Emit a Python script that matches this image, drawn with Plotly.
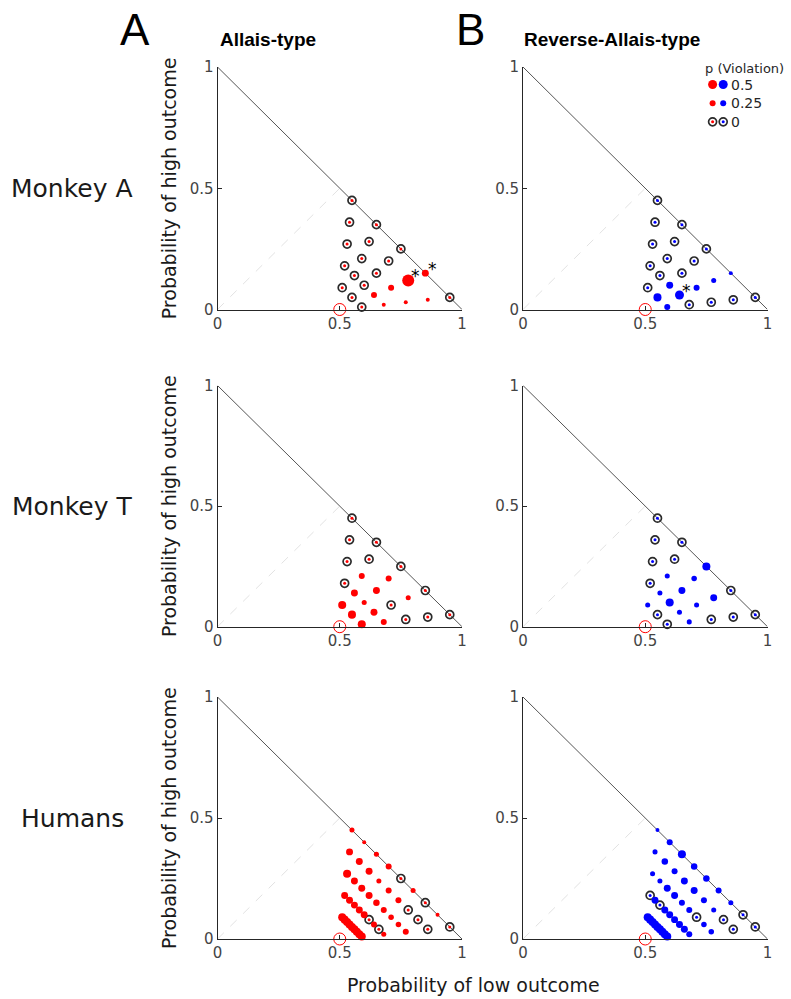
import plotly.graph_objects as go

# ---------------- data ----------------
# Monkey gamble set (x = P(low outcome), y = P(high outcome))
MONKEY_X = [0.55, 0.54, 0.53, 0.52, 0.51,
            0.65, 0.62, 0.59, 0.56,
            0.75, 0.70, 0.65, 0.60, 0.55,
            0.85, 0.78, 0.71, 0.64,
            0.95, 0.86, 0.77, 0.68, 0.59]
MONKEY_Y = [0.45, 0.36, 0.27, 0.18, 0.09,
            0.35, 0.28, 0.21, 0.14,
            0.25, 0.20, 0.15, 0.10, 0.05,
            0.15, 0.12, 0.09, 0.06,
            0.05, 0.04, 0.03, 0.02, 0.01]

P_MONKEY_A_ALLAIS = [0, 0, 0, 0, 0,
                     0, 0, 0, 0,
                     0, 0, 0, 0, 0,
                     0.33, 0.75, 0.25, 0.25,
                     0, 0.08, 0.08, 0.08, 0]
P_MONKEY_A_REVERSE = [0, 0, 0, 0, 0,
                      0, 0, 0, 0,
                      0, 0, 0, 0.33, 0.42,
                      0.08, 0.17, 0.25, 0.5,
                      0, 0, 0, 0, 0.25]
P_MONKEY_T_ALLAIS = [0, 0, 0, 0, 0.42,
                     0, 0, 0.25, 0.33,
                     0, 0.25, 0.33, 0.17, 0.42,
                     0, 0.17, 0, 0.33,
                     0, 0, 0, 0.25, 0.42]
P_MONKEY_T_REVERSE = [0, 0, 0, 0, 0.17,
                      0, 0, 0.17, 0.17,
                      0.42, 0.21, 0.33, 0.42, 0,
                      0, 0.33, 0.17, 0.17,
                      0, 0, 0, 0.17, 0]

# Human gamble set
HUMAN_X = [0.55, 0.60, 0.65, 0.70, 0.75, 0.80, 0.85, 0.90, 0.95,
           0.54, 0.58, 0.62, 0.66, 0.70, 0.74, 0.78, 0.82, 0.86,
           0.53, 0.56, 0.59, 0.62, 0.65, 0.68, 0.71, 0.74, 0.77,
           0.52, 0.54, 0.56, 0.58, 0.60, 0.62, 0.64, 0.66, 0.68,
           0.51, 0.52, 0.53, 0.54, 0.55, 0.56, 0.57, 0.58, 0.59]
HUMAN_Y = [0.45, 0.40, 0.35, 0.30, 0.25, 0.20, 0.15, 0.10, 0.05,
           0.36, 0.32, 0.28, 0.24, 0.20, 0.16, 0.12, 0.08, 0.04,
           0.27, 0.24, 0.21, 0.18, 0.15, 0.12, 0.09, 0.06, 0.03,
           0.18, 0.16, 0.14, 0.12, 0.10, 0.08, 0.06, 0.04, 0.02,
           0.09, 0.08, 0.07, 0.06, 0.05, 0.04, 0.03, 0.02, 0.01]
P_HUMAN_ALLAIS = [0.17, 0.08, 0.17, 0.25, 0, 0.17, 0, 0.08, 0,
                  0.33, 0.33, 0.33, 0.17, 0.25, 0.25, 0, 0, 0,
                  0.42, 0.33, 0.33, 0.33, 0.29, 0.25, 0.21, 0.21, 0.25,
                  0.33, 0.33, 0.33, 0.33, 0.33, 0, 0.25, 0, 0.17,
                  0.42, 0.42, 0.42, 0.42, 0.42, 0.42, 0.42, 0.42, 0.42]
P_HUMAN_REVERSE = [0.08, 0.25, 0.42, 0.29, 0.29, 0.25, 0.17, 0, 0,
                   0.17, 0.29, 0.25, 0.33, 0.33, 0.25, 0.17, 0, 0,
                   0.17, 0.17, 0.33, 0.33, 0.25, 0.25, 0, 0.21, 0.21,
                   0, 0.33, 0, 0.33, 0.33, 0.33, 0.33, 0.33, 0.25,
                   0.42, 0.42, 0.42, 0.42, 0.42, 0.42, 0.42, 0.42, 0.42]

# significant violations (asterisks)
SIG_MA_ALLAIS_X = [0.78, 0.85]
SIG_MA_ALLAIS_Y = [0.12, 0.15]
SIG_MA_REVERSE_X = [0.64]
SIG_MA_REVERSE_Y = [0.06]

# reference geometry
SIMPLEX_X = [0, 1]
SIMPLEX_Y = [1, 0]
DIAG_X = [0, 0.5]
DIAG_Y = [0, 0.5]
SAFE_X = [0.5]
SAFE_Y = [0]

ROW_LABELS = ["Monkey A", "Monkey T", "Humans"]
COL_TITLES = ["Allais-type", "Reverse-Allais-type"]
PANEL_LETTERS = ["A", "B"]
TICK_VALS = [0, 0.5, 1]
TICK_TEXT = ["0", "0.5", "1"]
LEGEND_P = [0.5, 0.25, 0]
LEGEND_LABELS = ["0.5", "0.25", "0"]

# ---------------- layout helpers ----------------
W, H = 791, 999
COL_PX = [(217.5, 462.0), (523.0, 767.5)]
ROW_PX = [(309.5, 67.0), (626.7, 385.5), (939.0, 697.0)]
RED, BLUE = "#ff0000", "#0000ff"
RING = "#2a2a2a"
FONT = "DejaVu Sans"


def px_x(v):
    return v / W


def px_y(v):
    return 1 - v / H


def msize(p):
    return 3 + 12 * p


panels = [
    (0, 0, MONKEY_X, MONKEY_Y, P_MONKEY_A_ALLAIS, RED, SIG_MA_ALLAIS_X, SIG_MA_ALLAIS_Y),
    (0, 1, MONKEY_X, MONKEY_Y, P_MONKEY_A_REVERSE, BLUE, SIG_MA_REVERSE_X, SIG_MA_REVERSE_Y),
    (1, 0, MONKEY_X, MONKEY_Y, P_MONKEY_T_ALLAIS, RED, [], []),
    (1, 1, MONKEY_X, MONKEY_Y, P_MONKEY_T_REVERSE, BLUE, [], []),
    (2, 0, HUMAN_X, HUMAN_Y, P_HUMAN_ALLAIS, RED, [], []),
    (2, 1, HUMAN_X, HUMAN_Y, P_HUMAN_REVERSE, BLUE, [], []),
]

fig = go.Figure()
layout = dict(
    width=W, height=H, margin=dict(l=0, r=0, t=0, b=0, autoexpand=False),
    paper_bgcolor="white", plot_bgcolor="rgba(0,0,0,0)",
    showlegend=False, font=dict(family=FONT, color="#262626"),
)
annotations = []

for i, (r, c, X, Y, P, col, sx, sy) in enumerate(panels, start=1):
    xa, ya = f"x{i}", f"y{i}"
    x0, x1 = COL_PX[c]
    y0, y1 = ROW_PX[r]
    axis_common = dict(
        range=[0, 1], showgrid=False, zeroline=False, showline=True, automargin=False,
        linecolor="#262626", linewidth=1, ticks="inside", ticklen=4,
        tickcolor="#262626", tickvals=TICK_VALS, ticktext=TICK_TEXT,
        tickfont=dict(family=FONT, size=15, color="#444444"), fixedrange=True,
    )
    layout[f"xaxis{i}"] = dict(domain=[px_x(x0), px_x(x1)], anchor=ya, **axis_common)
    layout[f"yaxis{i}"] = dict(domain=[px_y(y0), px_y(y1)], anchor=xa, **axis_common)

    # reference lines
    fig.add_trace(go.Scatter(x=DIAG_X, y=DIAG_Y, mode="lines", xaxis=xa, yaxis=ya,
                             line=dict(color="#e2e2e2", width=1, dash="dash"),
                             hoverinfo="skip", cliponaxis=False))
    fig.add_trace(go.Scatter(x=SIMPLEX_X, y=SIMPLEX_Y, mode="lines", xaxis=xa, yaxis=ya,
                             line=dict(color="#555555", width=1),
                             hoverinfo="skip", cliponaxis=False))
    # safe option
    fig.add_trace(go.Scatter(x=SAFE_X, y=SAFE_Y, mode="markers", xaxis=xa, yaxis=ya,
                             marker=dict(symbol="circle-open", size=12, color=RED, opacity=1,
                                         line=dict(width=1, color=RED)),
                             hoverinfo="skip", cliponaxis=False))
    # rings for p == 0
    zx = [x for x, p in zip(X, P) if p == 0]
    zy = [y for y, p in zip(Y, P) if p == 0]
    fig.add_trace(go.Scatter(x=zx, y=zy, mode="markers", xaxis=xa, yaxis=ya,
                             marker=dict(symbol="circle-open", size=8, color=RING, opacity=1,
                                         line=dict(width=1.7, color=RING)),
                             hoverinfo="skip", cliponaxis=False))
    # dots sized by p(violation)
    fig.add_trace(go.Scatter(x=X, y=Y, mode="markers", xaxis=xa, yaxis=ya,
                             marker=dict(symbol="circle", size=[msize(p) for p in P],
                                         color=col, opacity=1, line=dict(width=0)),
                             cliponaxis=False))
    for ax_, ay_ in zip(sx, sy):
        annotations.append(dict(x=ax_, y=ay_, xref=xa, yref=ya, text="*", showarrow=False,
                                xshift=7, yshift=4,
                                font=dict(family=FONT, size=17, color="black")))

# legend key on its own axis
layout["xaxis7"] = dict(domain=[px_x(702), px_x(744.4)], range=[-1, 3], anchor="y7",
                        visible=False, fixedrange=True, automargin=False)
layout["yaxis7"] = dict(domain=[px_y(140.5), px_y(65.9)], range=[3, -1], anchor="x7",
                        visible=False, fixedrange=True, automargin=False)
for ci, col in enumerate([RED, BLUE]):
    fx = [ci for p in LEGEND_P if p > 0]
    fy = [ri for ri, p in enumerate(LEGEND_P) if p > 0]
    fs = [msize(p) for p in LEGEND_P if p > 0]
    fig.add_trace(go.Scatter(x=fx, y=fy, mode="markers", xaxis="x7", yaxis="y7",
                             marker=dict(size=fs, color=col, opacity=1, line=dict(width=0)),
                             cliponaxis=False))
    rx = [ci for p in LEGEND_P if p == 0]
    ry = [ri for ri, p in enumerate(LEGEND_P) if p == 0]
    fig.add_trace(go.Scatter(x=rx, y=ry, mode="markers", xaxis="x7", yaxis="y7",
                             marker=dict(symbol="circle-open", size=8, color=RING, opacity=1,
                                         line=dict(width=1.7, color=RING)),
                             cliponaxis=False))
    fig.add_trace(go.Scatter(x=rx, y=ry, mode="markers", xaxis="x7", yaxis="y7",
                             marker=dict(size=msize(0), color=col, opacity=1),
                             cliponaxis=False))
for ri, lab in enumerate(LEGEND_LABELS):
    annotations.append(dict(x=1.5, y=ri, xref="x7", yref="y7", text=lab, showarrow=False,
                            xanchor="left", yanchor="middle",
                            font=dict(family=FONT, size=14, color="#262626")))
annotations.append(dict(x=px_x(703), y=px_y(68), xref="paper", yref="paper",
                        text="p (Violation)", showarrow=False, xanchor="left",
                        yanchor="middle", font=dict(family=FONT, size=13, color="#262626")))

# text labels
for c, (title, letter) in enumerate(zip(COL_TITLES, PANEL_LETTERS)):
    annotations.append(dict(x=px_x([218, 522][c]), y=px_y(39), xref="paper", yref="paper",
                            text=f"<b>{title}</b>", showarrow=False, xanchor="left",
                            yanchor="middle",
                            font=dict(family="Liberation Sans", size=19, color="black")))
    annotations.append(dict(x=px_x([135, 470][c]), y=px_y(29), xref="paper", yref="paper",
                            text=letter, showarrow=False, xanchor="center", yanchor="middle",
                            font=dict(family="Liberation Sans", size=44, color="black")))
for r, lab in enumerate(ROW_LABELS):
    y0, y1 = ROW_PX[r]
    annotations.append(dict(x=px_x(72), y=px_y((y0 + y1) / 2), xref="paper", yref="paper",
                            text=lab, showarrow=False, xanchor="center", yanchor="middle",
                            font=dict(family=FONT, size=25, color="#1a1a1a")))
    annotations.append(dict(x=px_x(169), y=px_y((y0 + y1) / 2), xref="paper", yref="paper",
                            text="Probability of high outcome", textangle=-90,
                            showarrow=False, xanchor="center", yanchor="middle",
                            font=dict(family=FONT, size=19, color="#1a1a1a")))
annotations.append(dict(x=px_x(473.5), y=px_y(985), xref="paper", yref="paper",
                        text="Probability of low outcome", showarrow=False,
                        xanchor="center", yanchor="middle",
                        font=dict(family=FONT, size=19, color="#1a1a1a")))

layout["annotations"] = annotations
fig.update_layout(**layout)
fig.write_html("out.html", config={"displayModeBar": False},
               post_script="document.body.style.margin='0px';document.body.style.overflow='hidden';")
